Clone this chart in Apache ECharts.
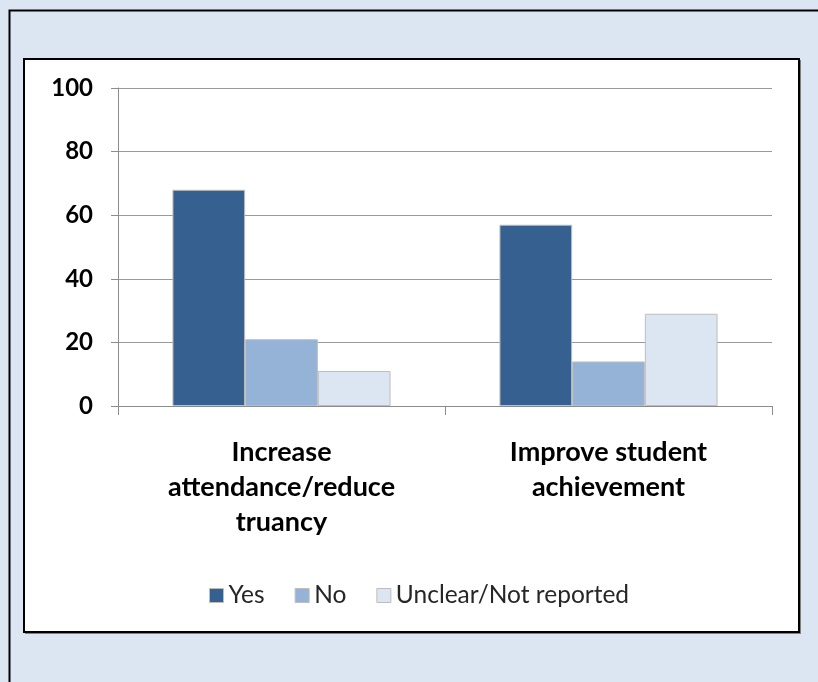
<!DOCTYPE html>
<html>
<head>
<meta charset="utf-8">
<script src="https://cdn.jsdelivr.net/npm/echarts@6/dist/echarts.min.js"></script>
<style>
  html, body { margin: 0; padding: 0; background: #DCE6F2; }
  #chart { width: 818px; height: 682px; }
</style>
</head>
<body>
<div id="chart"></div>
<script>
// Outcome categories and the share of programs (%) in each response group
const categories = ['Increase\nattendance/reduce\ntruancy', 'Improve student\nachievement'];
const seriesNames = ['Yes', 'No', 'Unclear/Not reported'];
const yesValues = [68, 57];
const noValues = [21, 14];
const unclearValues = [11, 29];
const yTicks = { min: 0, max: 100, interval: 20 };

const colors = ['#36608F', '#95B3D7', '#DCE6F2'];
const fontFamily = 'Lato, Carlito, Calibri, sans-serif';

const chart = echarts.init(document.getElementById('chart'), null, { renderer: 'canvas' });

function barSeries(name, values, color) {
  return {
    name: name,
    type: 'bar',
    data: values,
    barGap: '0%',
    barCategoryGap: '33.3%',
    itemStyle: { color: color, borderColor: '#BDBDBD', borderWidth: 1 },
    emphasis: { disabled: true }
  };
}

chart.setOption({
  backgroundColor: '#DCE6F2',
  animation: false,
  graphic: [
    // outer frame
    {
      type: 'rect', z: -30,
      shape: { x: 9.5, y: 10.5, width: 830, height: 700 },
      style: { fill: '#DCE6F2', stroke: '#000000', lineWidth: 2 }
    },
    // drop shadow of the chart box
    {
      type: 'rect', z: -20,
      shape: { x: 25, y: 60, width: 776, height: 574 },
      style: { fill: '#7F7F7F' }
    },
    // white chart box
    {
      type: 'rect', z: -10,
      shape: { x: 24, y: 59, width: 775, height: 573 },
      style: { fill: '#FFFFFF', stroke: '#000000', lineWidth: 2 }
    }
  ],
  grid: { left: 118, right: 46, top: 88, bottom: 276, containLabel: false },
  legend: {
    data: seriesNames,
    top: 578,
    left: 204,
    itemWidth: 14,
    itemHeight: 14,
    itemGap: 30,
    icon: 'rect',
    textStyle: { fontFamily: fontFamily, fontSize: 24.5, color: '#262626' },
    itemStyle: { borderColor: '#BDBDBD', borderWidth: 1 }
  },
  xAxis: {
    type: 'category',
    data: categories,
    axisLine: { show: true, lineStyle: { color: '#8C8C8C', width: 1 } },
    axisTick: { show: true, alignWithLabel: false, length: 9, lineStyle: { color: '#8C8C8C' } },
    axisLabel: {
      interval: 0,
      margin: 29,
      fontFamily: fontFamily,
      fontWeight: 'bold',
      fontSize: 27,
      lineHeight: 35,
      color: '#000000'
    }
  },
  yAxis: {
    type: 'value',
    min: yTicks.min,
    max: yTicks.max,
    interval: yTicks.interval,
    axisLine: { show: true, lineStyle: { color: '#8C8C8C', width: 1 } },
    axisTick: { show: true, length: 7, lineStyle: { color: '#8C8C8C' } },
    splitLine: { show: true, lineStyle: { color: '#9A9A9A', width: 1 } },
    axisLabel: {
      margin: 25,
      fontFamily: fontFamily,
      fontWeight: 'bold',
      fontSize: 24,
      color: '#000000'
    }
  },
  series: [
    barSeries(seriesNames[0], yesValues, colors[0]),
    barSeries(seriesNames[1], noValues, colors[1]),
    barSeries(seriesNames[2], unclearValues, colors[2])
  ]
});
</script>
</body>
</html>
